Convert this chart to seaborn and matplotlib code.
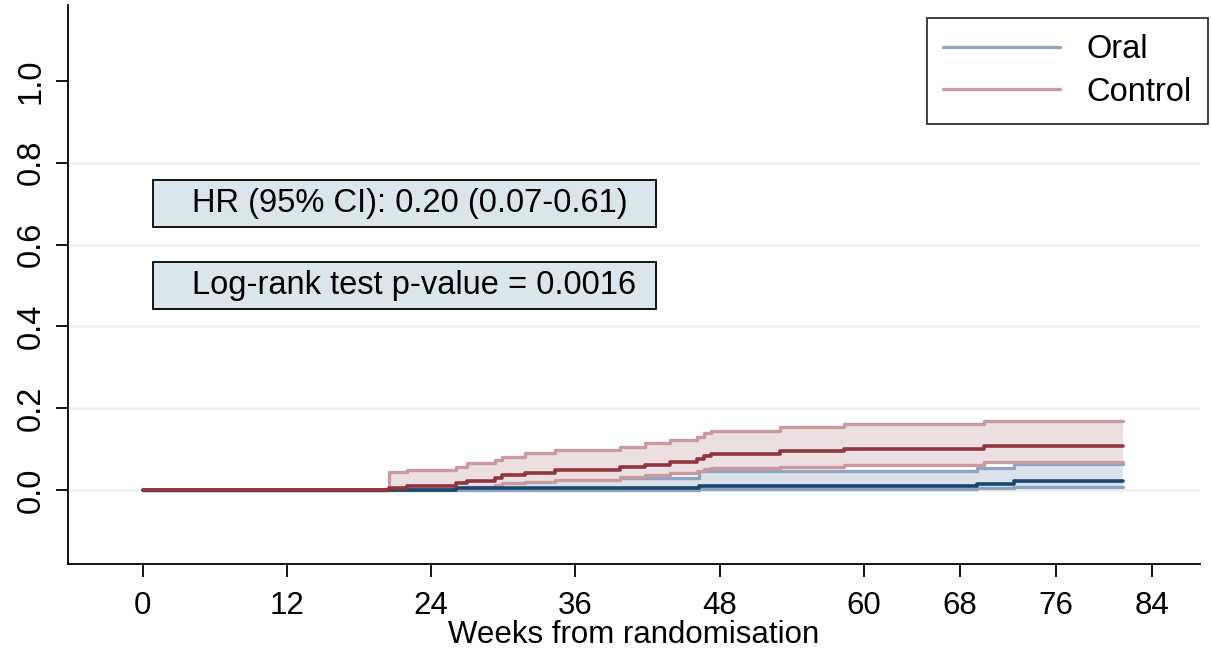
import numpy as np
import pandas as pd
import matplotlib
matplotlib.use("Agg")
import matplotlib.pyplot as plt
from matplotlib.patches import Rectangle
import seaborn as sns

# ---- data (cumulative incidence) ----
control_t  = [0, 20.5, 22.0, 26.1, 27.0, 29.3, 29.9, 31.8, 34.3, 39.75, 41.8, 43.9, 46.1, 46.7, 47.25, 53.0, 58.4, 70.0, 81.6]
control_est = [0, 0.0057, 0.0105, 0.017, 0.023, 0.029, 0.036, 0.041, 0.049, 0.055, 0.062, 0.069, 0.075, 0.082, 0.088, 0.094, 0.100, 0.107, 0.107]
control_lo  = [0, 0.001, 0.002, 0.005, 0.008, 0.012, 0.016, 0.019, 0.024, 0.031, 0.037, 0.041, 0.047, 0.050, 0.053, 0.056, 0.061, 0.0675, 0.0675]
control_hi  = [0, 0.045, 0.0496, 0.057, 0.066, 0.073, 0.081, 0.090, 0.0976, 0.106, 0.115, 0.122, 0.130, 0.138, 0.145, 0.153, 0.161, 0.168, 0.168]

oral_t   = [0, 20.5, 26.1, 46.3, 69.4, 72.5, 81.6]
oral_est = [0, 0.001, 0.004, 0.0105, 0.015, 0.022, 0.022]
oral_lo  = [0, 0.0, 0.001, 0.002, 0.004, 0.007, 0.007]
oral_hi  = [0, 0.004, 0.028, 0.047, 0.053, 0.063, 0.063]

groups = ["Oral", "Control"]
x_ticks = [0, 12, 24, 36, 48, 60, 68, 76, 84]
y_ticks = [0.0, 0.2, 0.4, 0.6, 0.8, 1.0]
hr_text = "HR (95% CI): 0.20 (0.07-0.61)"
lr_text = "Log-rank test p-value = 0.0016"
x_label = "Weeks from randomisation"

df = pd.concat([
    pd.DataFrame({"t": oral_t, "est": oral_est, "lo": oral_lo, "hi": oral_hi, "group": "Oral"}),
    pd.DataFrame({"t": control_t, "est": control_est, "lo": control_lo, "hi": control_hi, "group": "Control"}),
], ignore_index=True)

sns.set_style("white")
plt.rcParams["font.family"] = ["Liberation Sans", "DejaVu Sans"]
plt.rcParams["text.color"] = "black"
plt.rcParams["xtick.color"] = "black"
plt.rcParams["ytick.color"] = "black"
plt.rcParams["axes.labelcolor"] = "black"

FS = 23.5
FSX = 22.5
line_col = {"Oral": "#1a476f", "Control": "#90353b"}
ci_col = {"Oral": "#8fa5bf", "Control": "#c99aa0"}
fill_col = {"Oral": "#dce2ea", "Control": "#ecdfe1"}

fig = plt.figure(figsize=(12.11, 6.53), dpi=100)
ax = fig.add_axes([0.056, 0.137, 0.935, 0.855])

z = 1
for g in groups:
    d = df[df.group == g]
    ax.fill_between(d.t, d.lo, d.hi, step="post", color=fill_col[g], lw=0, zorder=z)
    sns.lineplot(x=d.t.values, y=d.lo.values, drawstyle="steps-post", color=ci_col[g], lw=2.4, ax=ax,
                 zorder=z + 1, estimator=None)
    sns.lineplot(x=d.t.values, y=d.hi.values, drawstyle="steps-post", color=ci_col[g], lw=2.4, ax=ax,
                 zorder=z + 1, estimator=None, label=g)
    z += 2

for g in groups:
    d = df[df.group == g]
    sns.lineplot(x=d.t.values, y=d.est.values, drawstyle="steps-post", color=line_col[g], lw=2.6, ax=ax,
                 zorder=10, estimator=None)

ax.set_xlim(-6.25, 88.0)
ax.set_ylim(-0.18, 1.185)
ax.set_xticks(x_ticks)
ax.set_xticklabels([str(v) for v in x_ticks], fontsize=FSX)
ax.set_yticks(y_ticks)
ax.set_yticklabels([f"{v:.1f}" for v in y_ticks], fontsize=FS, rotation=90, va="center")
ax.tick_params(axis="both", length=9, width=1.3, color="black", direction="out", bottom=True, left=True)
ax.tick_params(axis="x", pad=11)
ax.tick_params(axis="y", pad=6)
ax.set_xlabel(x_label, fontsize=FSX, labelpad=-1)
ax.set_ylabel("")

ax.grid(axis="y", color="#eaf2f3", lw=1.8, zorder=0)
ax.yaxis.get_gridlines()[-1].set_visible(False)
ax.set_axisbelow(True)

for s in ["top", "right"]:
    ax.spines[s].set_visible(False)
for s in ["left", "bottom"]:
    ax.spines[s].set_color("black")
    ax.spines[s].set_linewidth(1.3)

# annotation boxes
for txt, yc in [(hr_text, 0.70), (lr_text, 0.50)]:
    ax.add_patch(Rectangle((0.83, yc - 0.058), 41.85, 0.116, facecolor="#dae5ec", edgecolor="black",
                           lw=1.3, zorder=12))
    ax.text(4.1, yc, txt, fontsize=FS, va="center", ha="left", zorder=13)

leg = ax.legend(loc="upper right", bbox_to_anchor=(1.007, 0.977), fontsize=FS, frameon=True, fancybox=False,
                edgecolor="black", handlelength=3.6, handletextpad=0.8, borderpad=0.5, labelspacing=0.35,
                borderaxespad=0.0)
leg.get_frame().set_linewidth(1.3)
leg.set_zorder(20)

fig.savefig("out.png", dpi=100)
